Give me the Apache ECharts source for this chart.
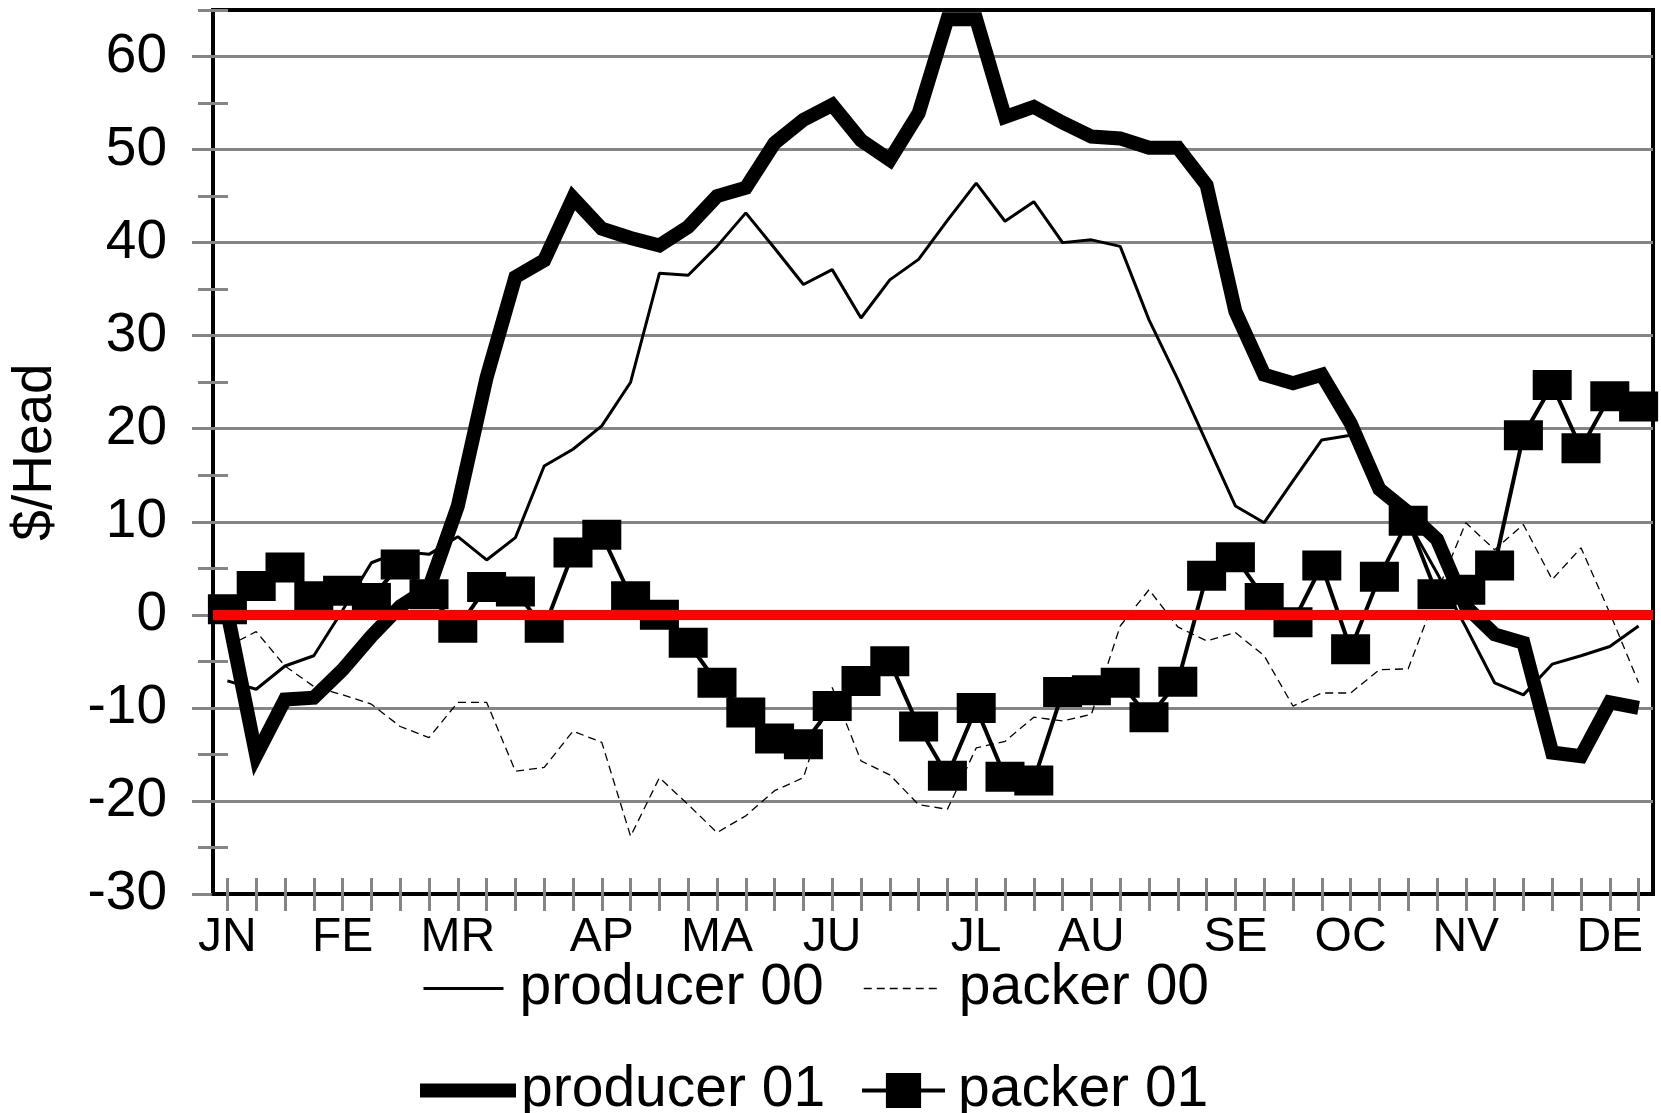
<!DOCTYPE html>
<html><head><meta charset="utf-8">
<script src="https://cdn.jsdelivr.net/npm/echarts@6/dist/echarts.min.js"></script>
<style>html,body{margin:0;padding:0;background:#fff}#c{width:1661px;height:1113px}</style>
</head><body><div id="c"></div>
<script>
// Week slots (50) and their month tick labels
const weekLabels = ['JN','','','','FE','','','','MR','','','','','AP','','','','MA','','','','JU','','','','','JL','','','','AU','','','','','SE','','','','OC','','','','NV','','','','','DE',''];
const weekIds = weekLabels.map((l, i) => 'w' + (i + 1));

const producer00 = [-7.1,-8.0,-5.5,-4.4,0.5,5.6,6.8,6.5,8.4,5.9,8.3,16.0,17.8,20.3,25.0,36.7,36.5,39.6,43.2,39.4,35.5,37.1,31.9,36.0,38.2,42.4,46.4,42.3,44.4,40.0,40.3,39.6,31.7,25.3,18.5,11.7,9.9,14.4,18.8,19.3,13.5,10.0,4.5,-1.3,-7.3,-8.6,-5.3,-4.4,-3.4,-1.2];
const packer00 = [-3.4,-1.8,-5.5,-7.7,-8.6,-9.6,-12.0,-13.2,-9.4,-9.4,-16.8,-16.4,-12.5,-13.7,-23.8,-17.5,-20.4,-23.4,-21.6,-18.9,-17.5,-7.8,-15.7,-17.2,-20.4,-20.9,-14.3,-13.6,-11.0,-11.4,-10.7,-1.2,2.7,-1.3,-2.8,-1.9,-4.4,-9.8,-8.4,-8.4,-5.9,-5.8,2.4,9.9,7.0,9.7,3.8,7.2,0.2,-7.3];
const producer01 = [0.2,-15.1,-9.1,-8.9,-5.9,-2.3,0.9,2.9,11.7,25.5,36.3,38.1,44.8,41.5,40.5,39.7,41.7,45.0,45.9,50.7,53.2,54.8,51.0,48.9,53.9,64.0,64.0,53.5,54.6,52.9,51.4,51.2,50.2,50.2,46.2,32.6,25.8,24.9,25.8,20.6,13.5,11.0,8.1,0.9,-2.1,-3.0,-14.8,-15.2,-9.4,-10.0];
const packer01 = [0.6,3.1,5.1,2.0,2.6,1.8,5.4,2.2,-1.4,3.0,2.5,-1.4,6.7,8.6,2.0,0.0,-3.0,-7.3,-10.5,-13.3,-13.9,-9.8,-7.1,-5.0,-12.0,-17.3,-10.0,-17.4,-17.8,-8.3,-8.1,-7.3,-11.0,-7.2,4.2,6.2,1.8,-0.8,5.3,-3.7,4.1,10.1,2.2,2.7,5.3,19.3,24.7,17.9,23.5,22.4];

const yTickValues = [-30,-20,-10,0,10,20,30,40,50,60];
const yMin = -30, yMax = 65;
const zeroLine = 0;

const FONT = '"Liberation Sans", Arial, Helvetica, sans-serif';
const GRAY = '#858585';

const chart = echarts.init(document.getElementById('c'), null, {renderer: 'canvas'});

const minorY = (inside) => ({
  type: 'value', min: yMin, max: yMax, interval: 5, position: 'left',
  axisLine: {show: false}, axisLabel: {show: false}, splitLine: {show: false},
  axisTick: {show: true, inside: inside, length: 15, lineStyle: {color: GRAY, width: 3}},
  z: 2
});

const legendItem = (item, left, top, itemWidth, itemHeight, padLeft) => ({
  data: [item], left: left, top: top, itemWidth: itemWidth, itemHeight: itemHeight,
  selectedMode: false, padding: 0,
  textStyle: {fontSize: 57, fontFamily: FONT, color: '#000', padding: [0, 0, 0, padLeft]}
});

chart.setOption({
  animation: false,
  backgroundColor: '#fff',
  grid: {left: 213, right: 8, top: 10, bottom: 219, show: true, borderColor: '#000', borderWidth: 4,
         containLabel: false, outerBoundsMode: 'none'},
  legend: [
    legendItem({name: 'producer 00', itemStyle: {opacity: 0}, lineStyle: {width: 3}}, 422, 960, 80, 30, 11),
    legendItem({name: 'packer 00', itemStyle: {opacity: 0}, lineStyle: {width: 1.5}}, 863, 960, 78, 30, 12),
    legendItem({name: 'producer 01', itemStyle: {opacity: 0}, lineStyle: {width: 14}}, 413, 1062, 96, 30, 0),
    legendItem({name: 'packer 01', lineStyle: {width: 4}}, 860, 1062, 83, 44, 8)
  ],
  xAxis: [{
    type: 'category', data: weekIds, boundaryGap: true, position: 'bottom',
    axisLine: {onZero: false, lineStyle: {color: '#000', width: 3}},
    axisTick: {show: true, interval: 0, alignWithLabel: true, inside: false, length: 17, lineStyle: {color: GRAY, width: 3}},
    axisLabel: {interval: 0, formatter: (v, i) => weekLabels[i], color: '#000', fontSize: 48, fontFamily: FONT, margin: 20},
    splitLine: {show: false}, z: 3
  }, {
    type: 'category', data: weekIds, boundaryGap: true, position: 'bottom',
    axisLine: {show: false, onZero: false},
    axisTick: {show: true, interval: 0, alignWithLabel: true, inside: true, length: 16, lineStyle: {color: GRAY, width: 3}},
    axisLabel: {show: false}, splitLine: {show: false}, z: 3
  }],
  yAxis: [{
    type: 'value', min: yMin, max: yMax, interval: 10, position: 'left',
    axisLine: {show: true, lineStyle: {color: '#000', width: 3}},
    axisTick: {show: true, inside: false, length: 21, customValues: yTickValues, lineStyle: {color: GRAY, width: 3}},
    axisLabel: {customValues: yTickValues, color: '#000', fontSize: 55, fontFamily: FONT, margin: 46},
    splitLine: {show: true, lineStyle: {color: GRAY, width: 3}},
    name: '$/Head', nameLocation: 'middle', nameGap: 150,
    nameTextStyle: {fontSize: 55, fontFamily: FONT, color: '#000'},
    z: 1
  }, minorY(false), minorY(true)],
  series: [{
    name: 'producer 00', type: 'line', data: producer00, symbol: 'none',
    lineStyle: {color: '#000', width: 3}, itemStyle: {color: '#000'}, z: 3
  }, {
    name: 'packer 00', type: 'line', data: packer00, symbol: 'none',
    lineStyle: {color: '#000', width: 1.3, type: [8, 5]}, itemStyle: {color: '#000'}, z: 3
  }, {
    name: 'producer 01', type: 'line', data: producer01, symbol: 'none',
    lineStyle: {color: '#000', width: 14, join: 'miter', miterLimit: 10, cap: 'butt'}, itemStyle: {color: '#000'}, z: 3
  }, {
    name: 'packer 01', type: 'line', data: packer01, symbol: 'rect', symbolSize: [39, 30],
    showSymbol: true, showAllSymbol: true,
    lineStyle: {color: '#000', width: 4}, itemStyle: {color: '#000'}, z: 3,
    markLine: {
      silent: true, symbol: ['none', 'none'], label: {show: false},
      lineStyle: {color: '#ff0000', width: 10, type: 'solid'},
      emphasis: {disabled: true},
      data: [{yAxis: zeroLine}]
    }
  }]
});
</script>
</body></html>
